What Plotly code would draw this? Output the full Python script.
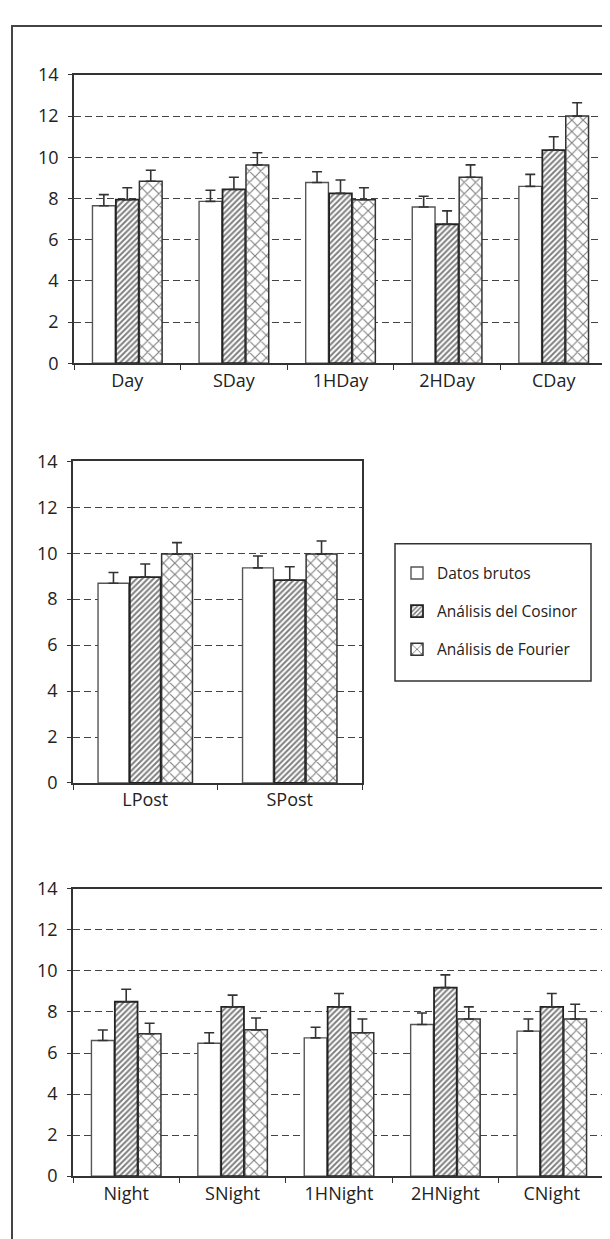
import plotly.graph_objects as go

W, H = 610, 1239

series_names = ["Datos brutos", "Análisis del Cosinor", "Análisis de Fourier"]

# Top chart (day)
cats_day = ["Day", "SDay", "1HDay", "2HDay", "CDay"]
raw_day = [7.65, 7.86, 8.78, 7.59, 8.59]
cos_day = [7.94, 8.44, 8.25, 6.75, 10.35]
four_day = [8.84, 9.63, 7.94, 9.03, 12.0]
raw_day_se = [0.54, 0.54, 0.52, 0.52, 0.58]
cos_day_se = [0.58, 0.59, 0.65, 0.65, 0.65]
four_day_se = [0.53, 0.59, 0.58, 0.60, 0.65]

# Middle chart (post)
cats_post = ["LPost", "SPost"]
raw_post = [8.69, 9.36]
cos_post = [8.96, 8.83]
four_post = [9.96, 9.96]
raw_post_se = [0.47, 0.52]
cos_post_se = [0.57, 0.58]
four_post_se = [0.50, 0.57]

# Bottom chart (night)
cats_night = ["Night", "SNight", "1HNight", "2HNight", "CNight"]
raw_night = [6.61, 6.48, 6.74, 7.39, 7.07]
cos_night = [8.50, 8.25, 8.25, 9.19, 8.25]
four_night = [6.94, 7.13, 6.99, 7.66, 7.66]
raw_night_se = [0.51, 0.51, 0.52, 0.56, 0.59]
cos_night_se = [0.61, 0.57, 0.65, 0.62, 0.65]
four_night_se = [0.51, 0.58, 0.67, 0.59, 0.72]

y_ticks = [0, 2, 4, 6, 8, 10, 12, 14]

styles = [
    dict(shape="", line_color="#555", line_w=1.4, size=8, solidity=0.2),
    dict(shape="/", line_color="#222", line_w=1.8, size=4, solidity=0.5),
    dict(shape="x", line_color="#333", line_w=1.5, size=8, solidity=0.26),
]

fig = go.Figure()


def add_chart(cats, vals, ses, xa, ya, show):
    for i in range(3):
        st = styles[i]
        fig.add_trace(go.Bar(
            x=cats, y=vals[i], name=series_names[i],
            legendgroup=series_names[i], showlegend=show,
            xaxis=xa, yaxis=ya,
            marker=dict(color="white",
                        line=dict(color=st["line_color"], width=st["line_w"]),
                        pattern=dict(shape=st["shape"], fgcolor="#000", bgcolor="white",
                                     size=st["size"], solidity=st["solidity"])),
            error_y=dict(type="data", symmetric=False, array=ses[i],
                         arrayminus=[0] * len(cats), color="#333",
                         thickness=1.6, width=5),
        ))


add_chart(cats_day, [raw_day, cos_day, four_day], [raw_day_se, cos_day_se, four_day_se], "x", "y", True)
add_chart(cats_post, [raw_post, cos_post, four_post], [raw_post_se, cos_post_se, four_post_se], "x2", "y2", False)
add_chart(cats_night, [raw_night, cos_night, four_night], [raw_night_se, cos_night_se, four_night_se], "x3", "y3", False)


def px_x(p):
    return p / W


def px_y(p):
    return 1 - p / H


font = dict(family="Open Sans", size=18, color="#222")

xcommon = dict(showline=True, linecolor="#333", linewidth=1.5, mirror=True,
               ticks="outside", tickson="boundaries", ticklen=5, tickcolor="#333",
               tickwidth=1.2, showgrid=False, tickfont=font)
ycommon = dict(range=[0, 14], tickvals=y_ticks, showline=True, linecolor="#333",
               linewidth=1.5, mirror=True, ticks="outside", ticklen=4,
               tickcolor="#333", tickwidth=1.2, showgrid=True, gridcolor="#444",
               gridwidth=1.4, griddash="7px,4px", zeroline=False, tickfont=font,
               ticklabelstandoff=6)

fig.update_layout(
    width=W, height=H, margin=dict(l=0, r=0, t=0, b=0),
    paper_bgcolor="white", plot_bgcolor="white",
    barmode="group", bargap=0.34, bargroupgap=0.03,
    font=font,
    xaxis=dict(domain=[px_x(66), px_x(599)], anchor="y", **xcommon),
    yaxis=dict(domain=[px_y(349), px_y(55)], anchor="x", **ycommon),
    xaxis2=dict(domain=[px_x(65), px_x(354)], anchor="y2", **xcommon),
    yaxis2=dict(domain=[px_y(777), px_y(449)], anchor="x2", **ycommon),
    xaxis3=dict(domain=[px_x(65), px_x(597)], anchor="y3", **xcommon),
    yaxis3=dict(domain=[px_y(1178), px_y(885)], anchor="x3", **ycommon),
    legend=dict(x=px_x(389), y=px_y(546), xanchor="left", yanchor="top",
                bgcolor="rgba(0,0,0,0)", borderwidth=0,
                font=dict(family="Open Sans", size=15.5, color="#222"),
                traceorder="grouped", tracegroupgap=15),
    shapes=[
        dict(type="rect", xref="paper", yref="paper",
             x0=px_x(387), x1=px_x(583), y0=px_y(673), y1=px_y(533),
             line=dict(color="#333", width=1.5)),
        dict(type="rect", xref="paper", yref="paper",
             x0=px_x(4), x1=1.02, y0=-0.02, y1=px_y(5),
             line=dict(color="#444", width=2)),
    ],
)

fig.write_html("out.html")
